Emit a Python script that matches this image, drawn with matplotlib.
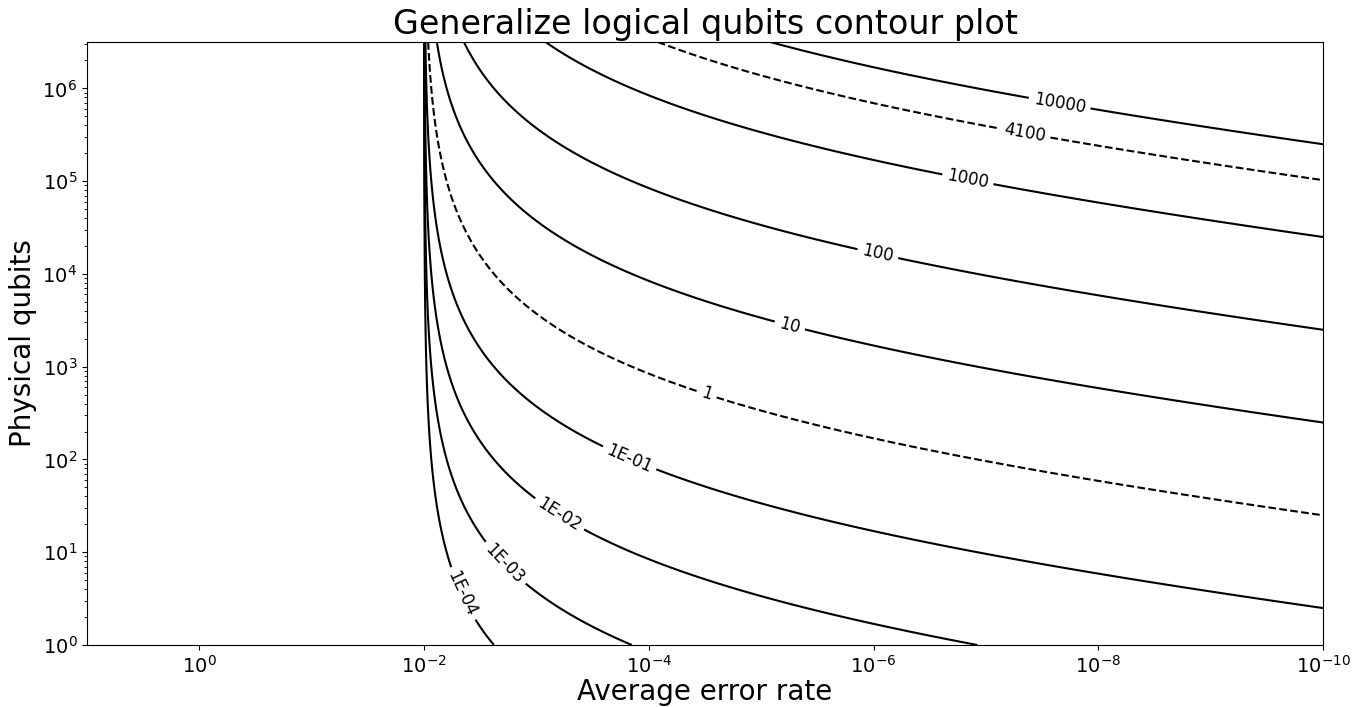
import matplotlib
matplotlib.use("Agg")
import matplotlib.pyplot as plt
import numpy as np

# contour levels (logical qubits) and their labels
levels = [1e-4, 1e-3, 1e-2, 1e-1, 1, 10, 100, 1000, 4100, 10000]
level_labels = ["1E-04", "1E-03", "1E-02", "1E-01", "1", "10", "100", "1000", "4100", "10000"]
dashed_levels = [1, 4100]

# where each label sits (log10 error rate, log10 physical qubits)
label_log_p = [-2.32, -2.72, -3.21, -3.83, -4.52, -5.26, -6.04, -6.84, -7.35, -7.66]
label_log_n = [0.54, 0.88, 1.42, 2.02, 2.72, 3.47, 4.23, 5.03, 5.55, 5.87]

# model: threshold 1e-2, code distance from target error
p_threshold = 1e-2
target_exp = 16

p = np.logspace(1, -10, 3000)
n_phys = np.logspace(0, 6.5, 600)
P, N = np.meshgrid(p, n_phys)

with np.errstate(divide="ignore", invalid="ignore"):
    q = np.abs(np.log10(P / p_threshold))
    d = 2 * target_exp / q - 1
    per_logical = (2 * d - 1) ** 2
    Z = np.where(P < p_threshold, N / per_logical, 0.0)

styles = ["dashed" if lv in dashed_levels else "solid" for lv in levels]

fig = plt.figure(figsize=(13.64, 7.07), dpi=100)
ax = fig.add_axes([0.0638, 0.0877, 0.9062, 0.8529])

ax.set_xscale("log")
ax.set_yscale("log")

cs = ax.contour(P, N, Z, levels=levels, colors="black", linestyles=styles, linewidths=1.5)

ax.set_xlim(10, 1e-10)
ax.set_ylim(1, 10 ** 6.5)
ax.xaxis.set_minor_locator(matplotlib.ticker.NullLocator())

positions = list(zip(10.0 ** np.array(label_log_p), 10.0 ** np.array(label_log_n)))
ax.clabel(cs, fmt=dict(zip(levels, level_labels)), fontsize=12, inline=True,
          manual=positions)

ax.set_title("Generalize logical qubits contour plot", fontsize=24)
ax.set_xlabel("Average error rate", fontsize=20, labelpad=1)
ax.set_ylabel("Physical qubits", fontsize=20)
ax.tick_params(labelsize=14)

fig.savefig("out.png", dpi=100)
